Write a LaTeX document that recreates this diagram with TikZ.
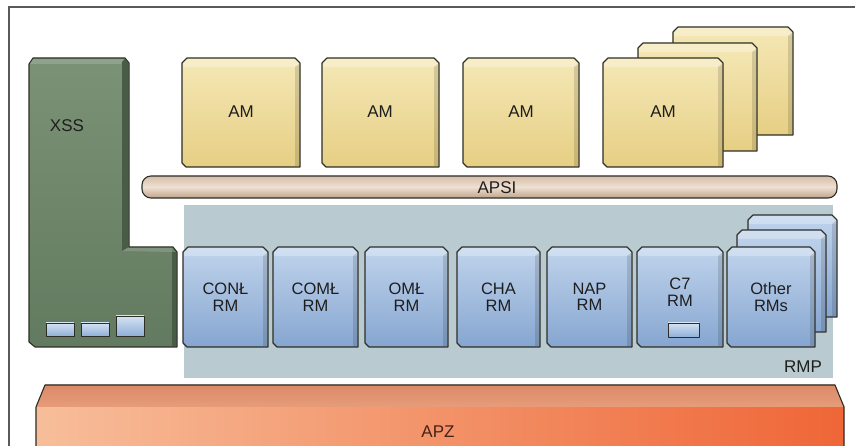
\documentclass[tikz,border=0pt]{standalone}
\usepackage{fontspec}
\setmainfont{Liberation Sans}
\definecolor{framec}{HTML}{5A5A5A}
\definecolor{outc}{HTML}{2E2E26}
\definecolor{txt}{HTML}{1E1E1E}
\definecolor{amtop}{HTML}{F5E8B6}
\definecolor{ambot}{HTML}{E6CF84}
\definecolor{rmtop}{HTML}{C0D4EC}
\definecolor{rmbot}{HTML}{86A6D0}
\definecolor{xsstop}{HTML}{7C9277}
\definecolor{xssbot}{HTML}{627A5F}
\definecolor{xssside}{HTML}{485C46}
\definecolor{rmpc}{HTML}{BACAD1}
\definecolor{apsitop}{HTML}{D6BEAA}
\definecolor{apsimid}{HTML}{EEE0D2}
\definecolor{apsibot}{HTML}{BFA38C}
\definecolor{apzL}{HTML}{F7BE9A}
\definecolor{apzR}{HTML}{EF6637}
\definecolor{apzT1}{HTML}{DC8A68}
\definecolor{apzT2}{HTML}{E69C7A}
\definecolor{smtop}{HTML}{D4E2F2}
\definecolor{smbot}{HTML}{8FAFD6}
\tikzset{
  outl/.style={draw=outc, line width=1.1pt, line join=round},
  amface/.style={outl, top color=amtop, bottom color=ambot},
  rmface/.style={outl, top color=rmtop, bottom color=rmbot},
  smallbox/.style={outl, line width=0.9pt, top color=smtop, bottom color=smbot},
  lbl/.style={font=\fontsize{17}{17}\selectfont, text=txt, align=center, inner sep=0pt},
  lbltwo/.style={lbl, font=\fontsize{16.5}{16.5}\selectfont},
}
% bevelled box: x1 y1 x2 y2 style
\newcommand{\bevbox}[5]{%
  \path[#5] (#1,#2+5) -- (#1+5,#2) -- (#3-5,#2) -- (#3,#2+5) -- (#3,#4) -- (#1+4,#4) -- (#1,#4-4) -- cycle;
  \fill[white,opacity=0.28] (#1+1,#2+5) -- (#1+5,#2+1) -- (#3-5,#2+1) -- (#3-1,#2+5) -- (#3-1,#2+9) -- (#1+1,#2+9) -- cycle;
  \fill[black,opacity=0.13] (#3-1,#2+6) -- (#3-1,#4-1) -- (#3-5,#4-1) -- (#3-5,#2+9) -- cycle;
}
\begin{document}
\begin{tikzpicture}[x=1pt,y=-1pt]
\useasboundingbox (0,0) rectangle (860,446);
\fill[white] (0,0) rectangle (860,446);
% frame
\draw[framec, line width=1.3pt] (9,446) -- (9,7) -- (855,7);

% APZ
\begin{scope}
\clip (0,0) rectangle (860,446);
\fill[left color=apzL, right color=apzR] (36,406) rectangle (844,452);
\fill[top color=apzT1, bottom color=apzT2] (36,407) -- (45,385) -- (835,385) -- (844,407) -- cycle;
\draw[outl] (36,452) -- (36,407) -- (45,385) -- (835,385) -- (844,407) -- (844,452);
\end{scope}
\node[lbl, text={rgb,255:red,70;green,35;blue,25}] (apz) at (438,432) {APZ};

% RMP panel
\fill[rmpc] (184,205) rectangle (833,378);
\node[lbl] (rmp) at (803,367) {RMP};

% APSI bus
\draw[outl, top color=apsitop, bottom color=apsibot, middle color=apsimid, rounded corners=9pt] (142,176) rectangle (837,198);
\node[lbl] (apsi) at (497,188) {APSI};

% XSS
\draw[outl, top color=xsstop, bottom color=xssbot]
  (29,64) -- (33,58) -- (125,58) -- (129,63) -- (129,247) -- (173,247) -- (177,252) -- (177,347) -- (35,347) -- (29,342) -- cycle;
\fill[xssside] (122,62) -- (125,59) -- (128.4,63) -- (128.4,247) -- (122,251) -- cycle;
\fill[xssside] (172,252) -- (176.4,252) -- (176.4,346.4) -- (172,346.4) -- cycle;
\fill[white,opacity=0.15] (30,64) -- (33,59) -- (124,59) -- (121,64) -- cycle;
\fill[white,opacity=0.15] (122,251) -- (128.5,247.6) -- (172.5,247.6) -- (172,252) -- cycle;
\node[lbl] (xss) at (67,126) {XSS};
\draw[smallbox] (46,323) rectangle (74,336);
\draw[smallbox] (81,323) rectangle (109,336);
\draw[smallbox] (116,316) rectangle (144,336);

% AM modules
\bevbox{182}{58}{300}{167}{amface}
\node[lbl] (am1) at (241,112) {AM};
\bevbox{322}{58}{439}{167}{amface}
\node[lbl] (am2) at (380,112) {AM};
\bevbox{463}{58}{579}{167}{amface}
\node[lbl] (am3) at (521,112) {AM};
\bevbox{673}{27}{793}{135}{amface}
\bevbox{638}{43}{757}{151}{amface}
\bevbox{603}{58}{723}{167}{amface}
\node[lbl] (am4) at (663,112) {AM};

% RM modules
\bevbox{183}{247}{268}{347}{rmface}
\node[lbltwo] (rm1) at (225.5,297) {CONŁ\\RM};
\bevbox{273}{247}{358}{347}{rmface}
\node[lbltwo] (rm2) at (315.5,297) {COMŁ\\RM};
\bevbox{365}{247}{448}{347}{rmface}
\node[lbltwo] (rm3) at (406.5,297) {OMŁ\\RM};
\bevbox{457}{247}{540}{347}{rmface}
\node[lbltwo] (rm4) at (498.5,297) {CHA\\RM};
\bevbox{547}{247}{632}{347}{rmface}
\node[lbltwo] (rm5) at (589.5,297) {NAP\\RM};
\bevbox{637}{247}{723}{347}{rmface}
\node[lbltwo] (rm6) at (680,292) {C7\\RM};
\draw[smallbox] (668,323) rectangle (699,337);
\bevbox{748}{215}{837}{317}{rmface}
\bevbox{737}{230}{826}{332}{rmface}
\bevbox{727}{247}{815}{347}{rmface}
\node[lbltwo] (rm7) at (771,297) {Other\\RMs};
\end{tikzpicture}
\end{document}
